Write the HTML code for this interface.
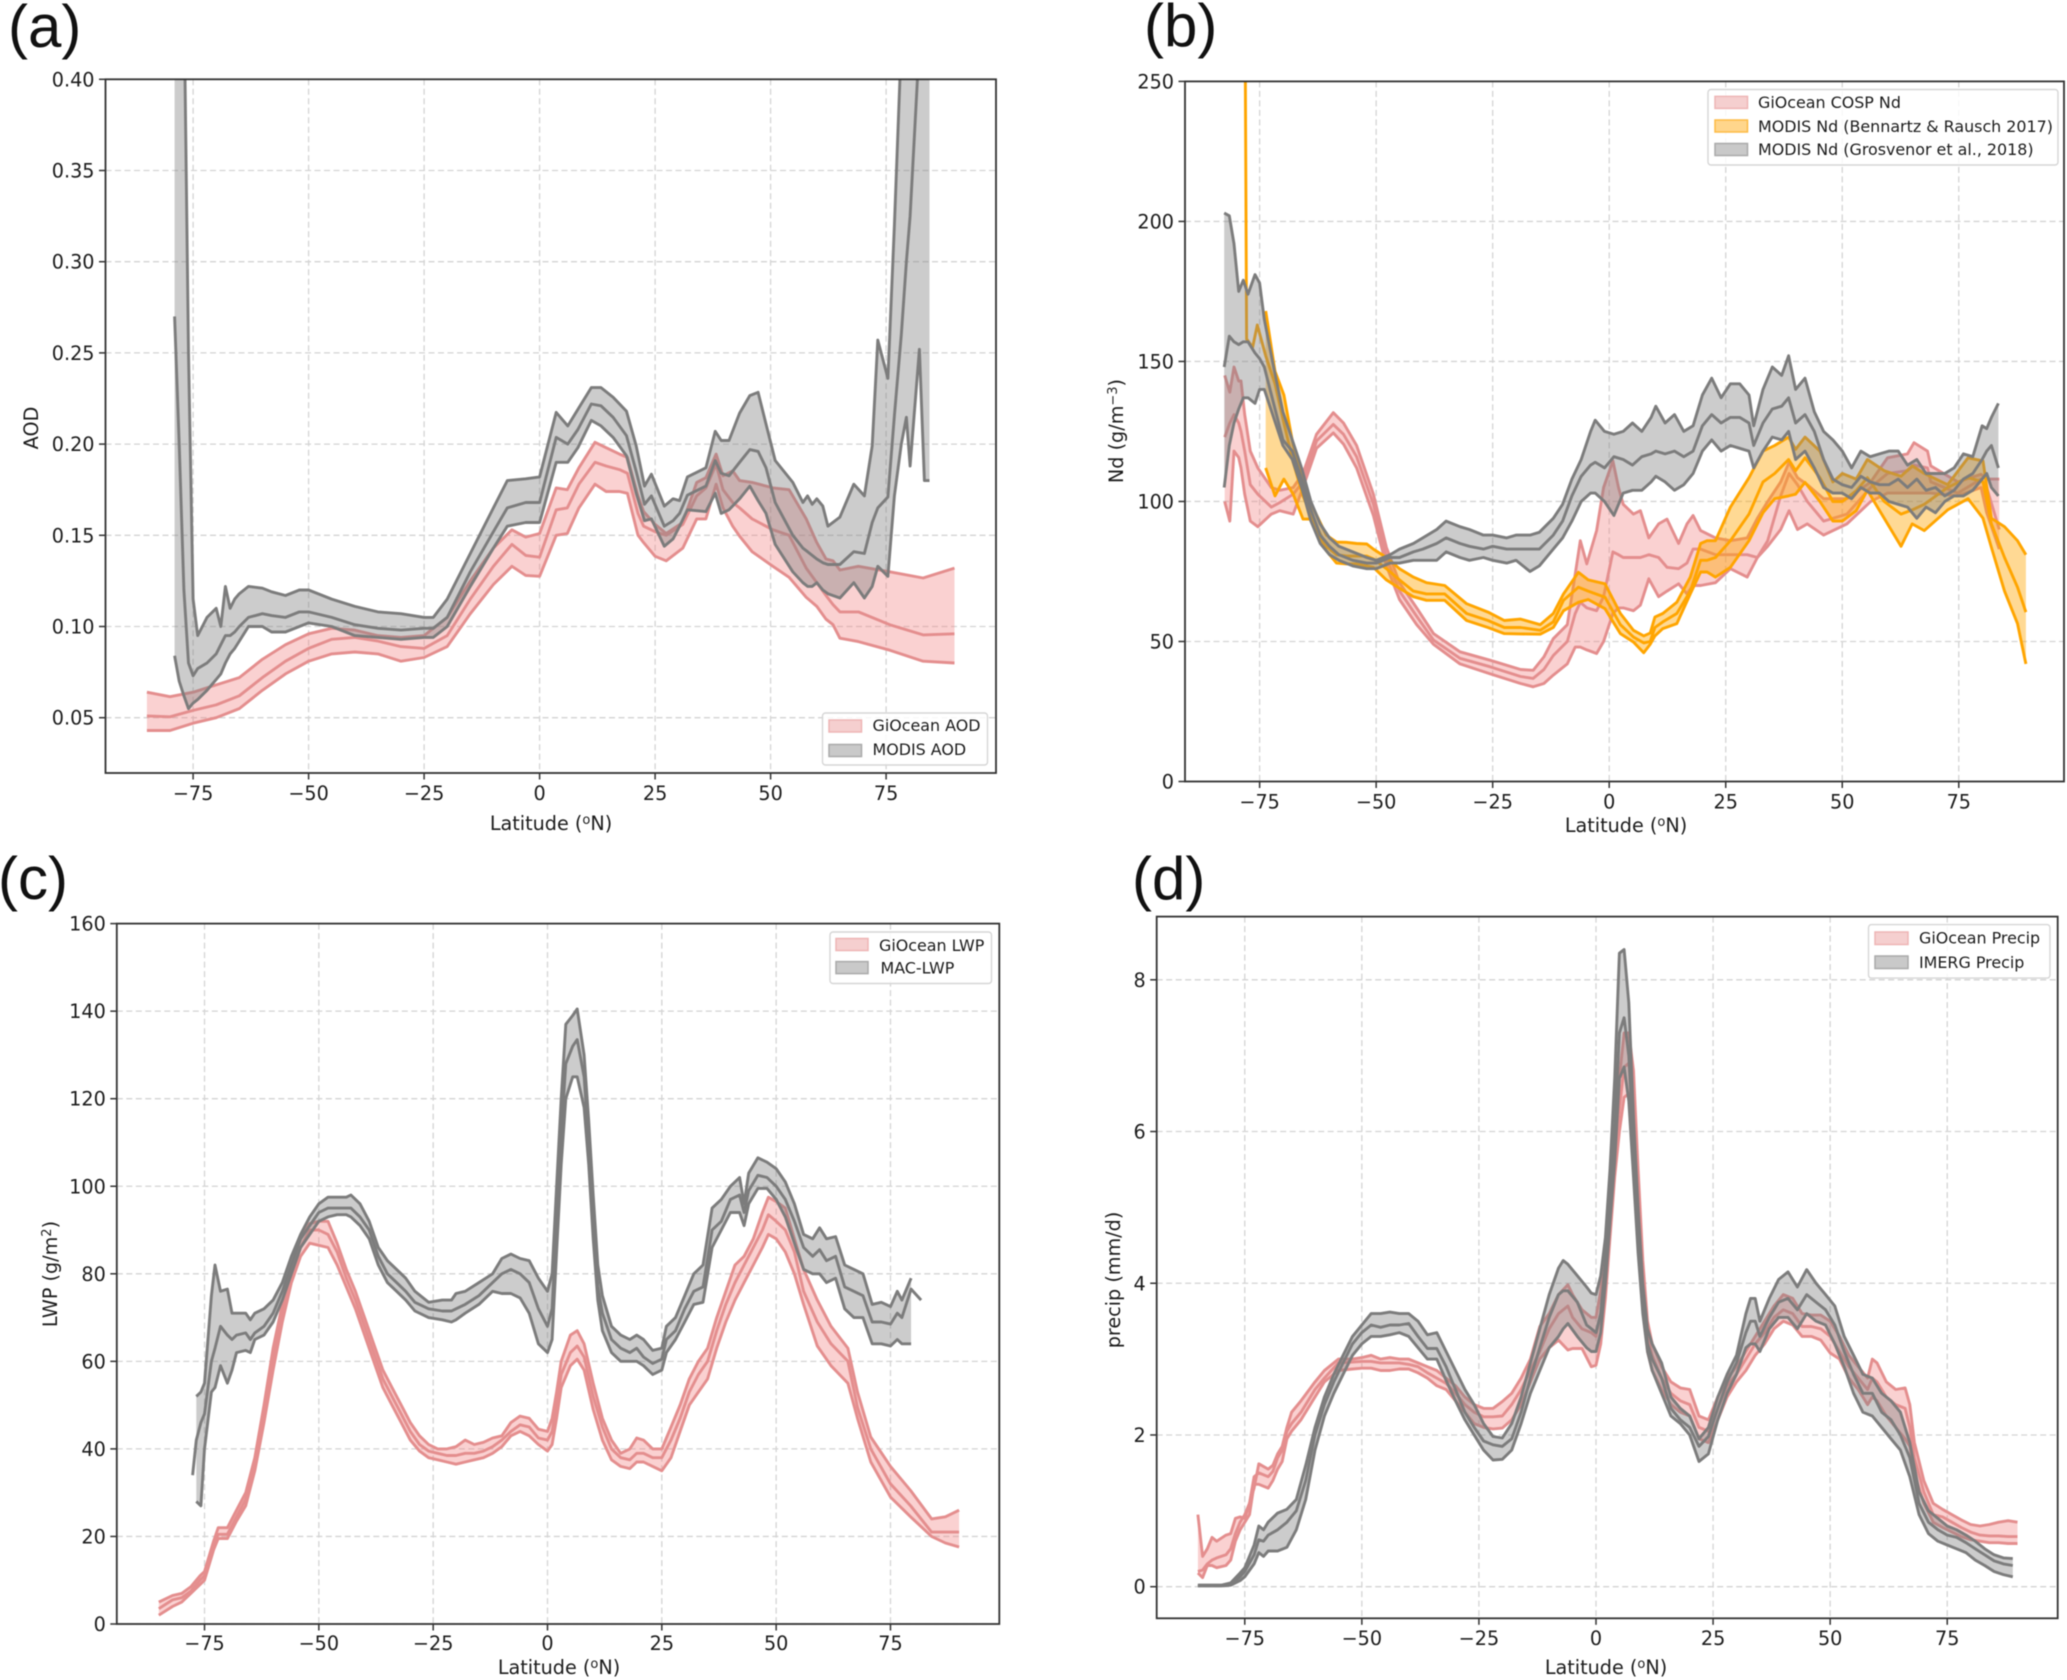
<!DOCTYPE html>
<html>
<head>
<meta charset="utf-8">
<title>Latitudinal profiles of AOD, Nd, LWP and precipitation</title>
<style>
html,body{margin:0;padding:0;background:#fff;width:2067px;height:1680px;overflow:hidden}
svg{display:block;filter:blur(0.5px)}
text{font-family:"DejaVu Sans","Liberation Sans",sans-serif;fill:#1c1c1c}
.tick{font-size:19.2px}
.axl{font-size:19.2px}
.leg{font-size:15.9px}
.pl{font-family:"Liberation Sans",sans-serif;font-size:60px;fill:#111}
.lb{fill:#fff;fill-opacity:.85;stroke:#d6d6d6;stroke-width:1.4}
</style>
</head>
<body>
<svg id="fig" xmlns="http://www.w3.org/2000/svg" width="2067" height="1680" viewBox="0 0 2067 1680">
<rect width="2067" height="1680" fill="#fff"/>
<defs>
<clipPath id="clip-a"><rect x="105.5" y="79.3" width="890.5" height="693.7"/></clipPath>
<clipPath id="clip-b"><rect x="1185" y="81.4" width="879" height="700.1"/></clipPath>
<clipPath id="clip-c"><rect x="116.8" y="923.6" width="882.5" height="700.4"/></clipPath>
<clipPath id="clip-d"><rect x="1156.7" y="916.6" width="901" height="701.7"/></clipPath>
</defs>

<g id="panel-a"></g>
<g id="panel-b"></g>
<g id="panel-c"></g>
<g id="panel-d"></g>

<text class="pl" x="8" y="47">(a)</text>
<text class="pl" x="1144" y="46">(b)</text>
<text class="pl" x="-2" y="899">(c)</text>
<text class="pl" x="1132" y="899">(d)</text>

<text class="axl" transform="translate(38,428) rotate(-90)" text-anchor="middle">AOD</text>
<text class="axl" transform="translate(1123,431) rotate(-90)" text-anchor="middle">Nd (g/m<tspan dy="-6" font-size="13">−3</tspan><tspan dy="6">)</tspan></text>
<text class="axl" transform="translate(57,1274) rotate(-90)" text-anchor="middle">LWP (g/m<tspan dy="-6" font-size="13">2</tspan><tspan dy="6">)</tspan></text>
<text class="axl" transform="translate(1120,1280) rotate(-90)" text-anchor="middle">precip (mm/d)</text>

<text class="axl" x="551" y="830" text-anchor="middle">Latitude (<tspan dy="-6" font-size="13">o</tspan><tspan dy="6">N)</tspan></text>
<text class="axl" x="1626" y="832" text-anchor="middle">Latitude (<tspan dy="-6" font-size="13">o</tspan><tspan dy="6">N)</tspan></text>
<text class="axl" x="559" y="1674" text-anchor="middle">Latitude (<tspan dy="-6" font-size="13">o</tspan><tspan dy="6">N)</tspan></text>
<text class="axl" x="1606" y="1674" text-anchor="middle">Latitude (<tspan dy="-6" font-size="13">o</tspan><tspan dy="6">N)</tspan></text>

<g>
<rect class="lb" x="822.5" y="713" width="165" height="52" rx="3"/>
<rect x="829" y="720" width="32.5" height="12" fill="#f5cfcf" stroke="#eeb5b5" stroke-width="1.5"/>
<rect x="829" y="744.5" width="32.5" height="12" fill="#c9c9c9" stroke="#aaa" stroke-width="1.5"/>
<text class="leg" x="872.5" y="731">GiOcean AOD</text>
<text class="leg" x="872.5" y="755">MODIS AOD</text>
</g>
<g>
<rect class="lb" x="1708" y="89.5" width="350" height="75.5" rx="3"/>
<rect x="1715" y="96.4" width="32.5" height="12" fill="#f5cfcf" stroke="#eeb5b5" stroke-width="1.5"/>
<rect x="1715" y="120" width="32.5" height="12" fill="#ffd68c" stroke="#fdbb45" stroke-width="1.5"/>
<rect x="1715" y="143.5" width="32.5" height="12" fill="#c9c9c9" stroke="#aaa" stroke-width="1.5"/>
<text class="leg" x="1758" y="108">GiOcean COSP Nd</text>
<text class="leg" x="1758" y="132">MODIS Nd (Bennartz &amp; Rausch 2017)</text>
<text class="leg" x="1758" y="155">MODIS Nd (Grosvenor et al., 2018)</text>
</g>
<g>
<rect class="lb" x="830" y="932" width="161.5" height="51.5" rx="3"/>
<rect x="836" y="938.5" width="32" height="12" fill="#f5cfcf" stroke="#eeb5b5" stroke-width="1.5"/>
<rect x="836" y="961.6" width="32" height="12" fill="#c9c9c9" stroke="#aaa" stroke-width="1.5"/>
<text class="leg" x="879" y="951">GiOcean LWP</text>
<text class="leg" x="880.5" y="973.5">MAC-LWP</text>
</g>
<g>
<rect class="lb" x="1868.5" y="924.6" width="181.5" height="53.5" rx="3"/>
<rect x="1875" y="932" width="33" height="12.5" fill="#f5cfcf" stroke="#eeb5b5" stroke-width="1.5"/>
<rect x="1875" y="956" width="33" height="12.5" fill="#c9c9c9" stroke="#aaa" stroke-width="1.5"/>
<text class="leg" x="1919" y="943.5">GiOcean Precip</text>
<text class="leg" x="1919" y="968">IMERG Precip</text>
</g>
</svg>

<script>
// ---------- shared tick labels ----------
const latTickLabels = [-75,-50,-25,0,25,50,75];
const aodTickLabels = ['0.05','0.10','0.15','0.20','0.25','0.30','0.35','0.40'];
const ndTickLabels = ['0','50','100','150','200','250'];
const lwpTickLabels = ['0','20','40','60','80','100','120','140','160'];
const precipTickLabels = ['0','2','4','6','8'];

// ---------- (a) AOD ----------
const aodPinkLat = [-85,-80,-75,-70,-65,-60,-55,-50,-45,-40,-35,-30,-25,-20,-15,-10,-6,-3,
0,3.6,6,8.5,12,14.4,17.3,19,21.3,22.5,25,27.4,31,34,36,38.2,39.7,41.8,43.3,46,50.5,54,57.7,60,62,63.5,65,69,75.8,83,89.8];
const aodPinkHi = [.064,.0615,.064,.068,.072,.082,.090,.096,.099,.098,.095,.094,.095,.105,.125,.143,.153,.149,
.151,.176,.175,.187,.201,.198,.1945,.1927,.1716,.163,.156,.151,.157,.179,.1816,.1945,.1826,.1853,.18,.179,.176,.175,.159,.146,.137,.136,.131,.133,.13,.1266,.132];
const aodPinkMid = [.051,.0505,.054,.057,.062,.072,.081,.088,.093,.094,.092,.089,.088,.095,.115,.133,.145,.139,
.138,.164,.165,.178,.19,.188,.186,.184,.162,.155,.152,.15,.156,.1716,.176,.189,.175,.168,.165,.159,.153,.15,.132,.124,.117,.112,.108,.108,.101,.0954,.096];
const aodPinkLo = [.043,.043,.047,.050,.055,.065,.074,.081,.085,.086,.085,.081,.083,.089,.107,.123,.133,.128,
.1275,.15,.151,.165,.178,.174,.174,.173,.15,.146,.1385,.136,.143,.159,.159,.178,.165,.155,.1495,.141,.133,.127,.116,.111,.104,.101,.0936,.0917,.087,.081,.08];

const aodGrayLat = [-79,-78,-77,-76,-75,-74,-72,-70,-69,-68,
-67,-66,-65,-63,-60,-58,-55,-52,-50,-45,
-40,-35,-30,-25,-23,-20,-15,-10,-7,-3,
0,3.6,6.1,8.3,11.2,13.3,15.9,18.8,20.9,22.7,
24.2,27,28.9,30.3,32,36,38,39.3,41,43.3,
45.5,47.3,49,51,54.8,57,58,59,60,61.3,
62.4,65,68,70.3,72,73.2,75.4,76.8,78.3,79.4,
80.2,82.2,83.3,84.4];
const aodGrayHi = [.6,.6,.45,.25,.115,.095,.105,.110,.100,.122,
.110,.115,.118,.122,.121,.119,.117,.120,.120,.115,
.111,.108,.107,.105,.105,.115,.140,.165,.180,.181,
.182,.2174,.21,.219,.231,.231,.2257,.218,.199,.177,
.1835,.166,.17,.169,.182,.187,.207,.202,.202,.217,
.2266,.2284,.211,.191,.179,.168,.1716,.167,.17,.166,
.155,.16,.178,.1716,.199,.257,.236,.32,.42,.6,
.6,.6,.6,.6];
const aodGrayMid = [.27,.2,.12,.08,.073,.077,.08,.085,.09,.095,
.095,.097,.100,.105,.107,.106,.105,.108,.108,.105,
.101,.099,.098,.099,.099,.105,.130,.152,.165,.168,
.168,.2037,.20,.208,.222,.221,.2147,.2046,.185,.167,
.1716,.155,.158,.162,.172,.177,.191,.184,.1826,.19,
.197,.196,.187,.168,.15,.143,.141,.139,.137,.135,
.134,.134,.141,.14,.157,.165,.171,.2156,.26,.30,
.325,.42,.6,.6];
const aodGrayLo = [.084,.07,.062,.055,.058,.06,.065,.071,.074,.08,
.085,.088,.092,.100,.100,.097,.097,.100,.102,.100,
.095,.094,.093,.094,.094,.100,.122,.143,.155,.157,
.157,.19,.19,.198,.213,.21,.2037,.1936,.173,.158,
.159,.144,.148,.155,.164,.163,.173,.162,.164,.17,
.177,.169,.162,.145,.13,.124,.122,.122,.124,.12,
.118,.1156,.124,.1156,.122,.133,.1275,.1716,.2,.2147,
.188,.252,.18,.18];

// ---------- (b) Nd ----------
const ndPinkLat = [-82.5,-81.4,-80.5,-79.5,-79,-78.2,-77,-75.4,-72.5,-70.7,
-67.8,-65.7,-62.8,-59.2,-57,-54.2,-50.6,-47.8,-45,-41.3,
-37.7,-32,-25.6,-19,-16.3,-14,-12,-9,-7.3,-6.2,
-4.8,-2.7,-1.2,0.8,2,3,5.2,6.7,8.5,10.6,
12.4,14.9,16.7,18,19.6,22.8,26,29.6,31.8,34,
36.8,38.6,40.4,42.5,46,51,56.1,59.7,64,65.4,
68.3,69,74.8,79.8,81,83.7];
const ndPinkHi = [145,139,148,143,143,131,118,112,105,104,
105,110,124,131.7,128,120,102.6,83.6,71,62,
52.8,46.3,43.3,40,39.7,44.5,51,56,74,86,
77.7,89.6,105,114.5,105,99,95.5,96.7,87,92,
93.7,85,92,95,89.6,87,86,87,94,100,
107,114,108.5,106,101,101,107,115.6,117,121,
118,112.7,107,109.7,108,108];
const ndPinkMid = [123,128,131,128,125,118,106,102.6,98,99.6,
102.6,107,121.6,127.5,124,116,99,80,68,59,
50.5,44,41,37.5,36.8,40,45,50,60,64,
62,61,66,82,81,80,80,80,81,80,
76.5,76,78,83,83,81,81,81,80,86,
102,110,106,100,93,95.5,105,110,111,113,
112,107,103,108,105,90];
const ndPinkLo = [100,93,118,115.7,112,102.6,93,91,95.5,96.7,
95.5,105,119,124.5,120.5,112,95,77,65,56,
49,42,38.5,35,33.8,35,38,42,48,48,
47,45.7,50,60,62,62,61,63,72.4,66,
68,70.6,67,70,70,71,76,73,80,84,
90,96.7,90,92,88,92,100,103,103,103,
103,103,102,105,96,83];

const ndOrangeLat = [-78.2,-77.8,-76.5,-75.5,-73.7,-71.7,-69.8,-67.8,-65.7,-64.2,
-60.7,-58.5,-56.4,-54.2,-52,-50.6,-47.8,-45,-42,-39.2,
-35.3,-30.6,-26,-22.5,-19,-14.8,-12,-9.8,-6.6,-4.5,
-0.9,2.4,5.2,7.4,8.8,9.8,11.5,14.5,17.4,19.6,
21,22.8,26,30,33,35.5,38.5,40,42,45.2,
48,50,53,55.4,59,62.6,65,67.6,72.6,77,
80.2,82,84.8,87.6,89.4];
const ndOrangeHi = [null,null,null,null,168,146.5,138,120,108,100,
88,85.5,85.4,85,84.8,83,80,76,73,71,
70,63.5,60.5,57.5,58,56,60,67,74.7,72,
70.6,60,54,52,53,58.7,60,64,73,85,
86,86,98,108.5,118,120,123,118.6,123,118,
107,110,108,115,111,109,112.7,110,106,115.6,
114.5,94,91,86,81];
const ndOrangeMid = [300,158,155,163,152,142,128,114,102,96,
84,81,80.5,80.5,80.5,79.5,76,72,68,67,
67,60,57.5,55,55,54,57,64.7,69.4,68,
65.8,56,51.6,49.5,50,55,57,60,68,79,
79,80,86,95.5,107,110,115,111,115.6,108.5,
100,100,103.8,108.5,100,95.5,97,99,105,108.5,
107,92,80,69.4,60.5];
const ndOrangeLo = [null,null,null,null,112,102,108,102.6,93.7,93.7,
82.4,78,77.7,77.7,77,76.5,72,69,66,64.7,
64.7,57.5,55,52.8,52.7,52.6,55,61,64,65,
61.7,52.8,49.8,46,49,52,54.6,56.4,67,74.8,
74.8,73,76.5,86,96,101,102,102.6,106.8,100,
93,93,96.7,104,94,84,92,89.6,97,101,
94,83.6,68,56.4,42];

const ndGrayLat = [-82.6,-81.5,-80.5,-79.5,-78.5,-77.5,-76,-75,-74,-72,
-70,-68,-66,-64,-62,-60,-58,-55,-52,-50,
-47,-45,-42,-40,-37,-35,-32,-30,-27,-25,
-22,-20,-17,-15,-12,-10,-8,-6,-4,-3,
-1,1,3,5,7,9,10,12,14,16,
18,20,22,24,26,28,30,31,33,35,
37,38.5,40,42,44,46,48,50,52,54,
56,58,60,62,64,66,68,70,72,74,
76,78,80,81,82,83.5];
const ndGrayHi = [203,202,192,175,179,174,181,178,165,148,
132,122,112,100,92,87,84,82,80,79,
81,83,85,87,90,93,91,90,88,88,
87,88,88,89,94,99,108,115,125,129,
125,124,125,128,125,130,134,128,131,125,
127,138,144,137,142,142,138,127,140,148,
145,152,140,144,132,125,122,118,112,118,
116,117,118,118,113,115,110,110,110,112,
117,116,127,126,130,135];
const ndGrayMid = [148,159,157,156,157,157,153,151,148,135,
122,118,108,97,88,84,81,79,78,78,
80,80,82,83,85,87,85,84,83,84,
83,83,83,83,88,93,102,109,113,114,
112,116,115,113,116,117,118,117,118,116,
118,127,131,128,130,130,128,120,128,133,
134,137,128,131,125,115,108,106,105,109,
107,106,106,108,105,108,104,105,102,104,
108,110,115,118,120,112];
const ndGrayLo = [105,120,128,133,137,137,135,140,140,130,
120,115,105,93,85,81,79,77,76,76,
78,78,79,79,79,82,80,79,80,79,
78,79,75,77,83,87,93,100,103,103,
100,95,103,104,104,107,109,107,104,106,
110,118,122,118,120,119,118,112,118,123,
122,125,115,118,112,105,103,103,101,105,
103,103,100,99,98,94,98,96,100,102,
102,104,108,110,105,102];

// ---------- (c) LWP ----------
const lwpPinkLat = [-85,-82,-80,-78,-76,-75,-73,-72,-70,-68,
-66,-64,-62,-60,-58,-56,-54,-52,-50,-48,
-46,-44,-42,-40,-38,-36,-34,-32,-30,-28,
-26,-24,-22,-20,-18,-16,-14,-12,-10,-8,
-6,-4,-2,0,1,2,3,5,6.5,8,
10,12,14,16,18,19.5,21,23,25,27,
29,31,33,35,37,39,41,43,45,47,
48.3,50,52,54,56,59,62,65.7,67.8,70.7,
75,79.4,84,87,90];
const lwpPinkHi = [5,6.5,7,8.5,11,12,19,22,22,26,
30,38,50,63,73,82,88,91.5,92,92,
87,81,76,70,64,58,54,50,46,43,
41,40,40,40.5,42,41,41.5,42.5,43,46,
47.5,47,44.5,44,47,53,60,66,67,64,
55,47,42,39,40,42.5,42,40,40,45,
50,56,60,63,70,76,82,84,88,94,
97.5,96.5,95,88,81,74,68,63,53,42.7,
36,30.5,24,24.5,26];
const lwpPinkMid = [3.5,5.5,6,7.5,10,11,18,20.5,20.5,24.5,
28.5,36,48,60,71,80,86,90,90,89,
85,79,74,68,62,56,52,48,44,41,
39.5,39,38.5,38.5,39,39,39.5,40.5,42,44,
45.5,45,42.5,42,44,50,57,62,63.5,61,
52,45,40,38,37.5,39,39,38,38,42,
47,53,57,60,67,73,78,82,86,90,
93.5,92,90,85,76,69,64,60,49.5,40,
32,27,21,21,21];
const lwpPinkLo = [2,4,5,7,9,10,17,19.5,19.5,23.5,
27,35,46,58,69,78,84,87,86.5,86,
82,77,72,66,60,54,50,46,42,39.5,
38,37.5,37,36.5,37,37.5,38,39,40.5,43,
44,43,41,39.5,41,47,54,59,60.5,58,
49,42,37.5,36,35.5,37,37,36,35,38,
44,50,53,56,63,69,74,78,82,86,
89,88,85,80,73,63.5,59,55,47,37,
29,24.5,20,18.5,17.6];

const lwpGrayLat = [-77.6,-76.8,-75.8,-75,-73.5,-72.7,-71.5,-70,-69,-68,
-66,-65,-64,-62,-60,-58,-56,-54,-52,-50,
-48,-46,-44,-43,-41,-39,-37,-35,-33,-31,
-29,-26,-23,-21,-20,-18,-15,-12,-10,-8,
-6,-4,-2,0,1,2,3,4,5.5,6.5,
8,9,10,11,12,14,16,18,19.5,21,
23,25,26,28,30,32,34,36,38,40,
42,43,44,46,48,50,52,54,56,58,
59.5,61,63,65,67,69,71,73,75,76.5,
77.5,79.5,81.7];
const lwpGrayHi = [null,52,53,55,75,82,76,76.5,71,71,
71,69.5,71,72,74,78,84,89,93,96,
97.5,97.5,97.5,98,96,92,86,83,81,79,
76,73.5,74,74,75.5,76,78,80,83.5,84.5,
83.5,83,79,76,80,100,120,137,139,140.5,
130,115,98,82,75,68,66,65,66,65,
62.5,63,68,70,75,80,82,95,97,100,
102,96,103,106.5,105.5,104,101,96,89,88,
90.5,88,88.5,82,81,80,73,73.5,72.5,76,
74,79,null];
const lwpGrayMid = [34,42,46,48,60,63,68,66,65,66,
66.5,65,66.5,68,71,76,82,88,91,94,
95,95,95,95,93,90,84,80,78,76,
73.5,72,71.5,71.5,72,73,75,78,80,81,
80,78,72,68,72,92,112,128,132,133.5,
125,110,92,77,71,65,63,62,63,61,
59.5,60.5,65,67,72,76,77,90,92,97,
98,94,99,102.5,102,100,97,92,86,84,
85.5,83,84,77,76,75,69,69,68.5,71,
70,76.5,74];
const lwpGrayLo = [null,28,27,40,53,54,59,55,58,62,
62.5,62,65,66,69,74,80,86,89,92,
93,93.5,93.5,93,91,88,82,78,76,74,
71.5,70,69.5,69,69.5,71,73,76,75.5,75.5,
74.5,71,64,62,65,85,105,120,125,125,
118,105,88,74,67,62,60,60,60,59,
57,58,62,65,69,73,73.5,86,90,94,
94,91,96,99.5,99.5,97,93,87,81,80,
80,78,79,72,70,70,64,64,63.5,65,
64,64,null];

// ---------- (d) Precip ----------
const prPinkLat = [-85,-84,-83,-82,-81,-79,-78,-77,-76,-75,
-74,-73,-72,-70,-69,-68,-67,-66,-65,-63,
-60,-58,-55,-52,-50,-48,-46,-44,-42,-40,
-38,-36,-34,-32,-30,-28,-26,-24,-22,-20,
-18,-16,-14,-12,-10,-8,-6,-5,-3,-1,
0,1,2,3,4,5,6,7,8,9,
10,11,12,14,16,18,20,22,24,26,
28,30,32,34,36,38,40,42,44,46,
48,50,52,54,56,58,59,60,62,64,
66,67,68,70,72,74,76,78,80,82,
84,86,88,90];
const prPinkHi = [.95,.4,.5,.65,.6,.68,.7,.9,.92,.9,
1.1,1.3,1.62,1.55,1.6,1.75,1.85,2.1,2.3,2.45,
2.7,2.85,3.0,3.0,3.02,3.05,3.0,3.02,3.0,3.0,
2.95,2.9,2.85,2.75,2.65,2.5,2.4,2.35,2.35,2.44,
2.55,2.75,3.0,3.43,3.6,3.85,3.98,3.85,3.65,3.55,
3.55,3.9,4.5,5.3,6,6.7,7.3,7.3,6.8,5.5,
4.3,3.5,3.2,2.9,2.7,2.62,2.6,2.25,2.2,2.5,
2.75,2.9,3.1,3.3,3.5,3.7,3.85,3.8,3.6,3.58,
3.58,3.5,3.3,3.05,2.9,2.75,3.0,2.95,2.7,2.6,
2.62,2.4,1.9,1.4,1.1,1.02,.95,.88,.82,.8,
.82,.85,.87,.85];
const prPinkMid = [.2,.22,.3,.35,.38,.42,.5,.7,.85,.95,
1.1,1.45,1.5,1.45,1.52,1.7,1.8,2.05,2.15,2.3,
2.6,2.75,2.95,2.96,2.97,2.97,2.95,2.95,2.95,2.93,
2.9,2.82,2.75,2.68,2.55,2.4,2.3,2.24,2.24,2.25,
2.4,2.6,2.85,3.1,3.4,3.6,3.7,3.55,3.4,3.35,
3.3,3.6,4.2,5,5.7,6.3,6.85,6.9,6.4,5.2,
4.1,3.3,3.05,2.75,2.55,2.45,2.4,2.1,2.05,2.35,
2.65,2.8,3.0,3.2,3.35,3.55,3.65,3.6,3.43,3.43,
3.4,3.3,3.1,2.9,2.75,2.6,2.75,2.7,2.5,2.4,
2.35,2.1,1.7,1.25,.95,.92,.85,.78,.72,.68,
.67,.67,.66,.66];
const prPinkLo = [.18,.12,.28,.28,.25,.28,.35,.6,.75,.85,
.95,1.35,1.35,1.3,1.4,1.55,1.65,1.95,2.05,2.2,
2.5,2.7,2.85,2.87,2.88,2.88,2.85,2.85,2.87,2.87,
2.82,2.75,2.65,2.6,2.45,2.3,2.15,2.1,2.08,2.09,
2.2,2.4,2.7,3.0,3.15,3.25,3.12,3.14,3.14,2.9,
2.92,3.2,3.8,4.6,5.4,6,6.45,6.5,6,4.9,
3.9,3.1,2.85,2.6,2.4,2.3,2.25,1.95,1.9,2.2,
2.5,2.7,2.85,3.05,3.2,3.4,3.5,3.45,3.3,3.3,
3.25,3.08,3,2.75,2.6,2.4,2.5,2.45,2.25,2.1,
1.95,1.85,1.5,1.1,.85,.78,.72,.66,.62,.6,
.58,.58,.57,.57];

const prGrayLat = [-85,-80,-78,-76,-75,-73,-72,-71,-70,-68,
-66,-64,-62,-60,-58,-56,-54,-52,-50,-48,
-46,-44,-42,-40,-38,-36,-34,-32,-30,-28,
-26,-24,-22,-20,-18,-16,-14,-12,-10,-8,
-7,-6,-4,-2,-1,0,1,2,3,4,
5,6,7,8,9,10,11,12,14,16,
18,20,22,24,26,28,30,32,33,34,
35,37,39,41,43,45,47,49,51,53,
55,57,59,61,63,65,67,69,71,73,
75,77,79,81,83,85,87,89];
const prGrayHi = [.02,.02,.05,.18,.25,.55,.8,.75,.85,.97,
1.02,1.15,1.6,2.1,2.5,2.8,3.05,3.3,3.45,3.6,
3.6,3.62,3.6,3.6,3.5,3.32,3.35,3.1,2.85,2.6,
2.4,2.15,1.98,1.96,2.15,2.5,2.95,3.4,3.85,4.2,
4.3,4.25,4.1,3.95,3.87,3.85,4.1,4.6,5.5,6.7,
8.35,8.4,7.7,6.2,5.0,4.0,3.4,3.2,2.95,2.5,
2.35,2.25,1.95,2.1,2.5,2.8,3.05,3.6,3.8,3.8,
3.5,3.8,4.05,4.15,3.95,4.18,4.0,3.85,3.7,3.3,
3.05,2.8,2.75,2.55,2.45,2.3,1.9,1.25,1.0,.9,
.8,.75,.68,.6,.5,.42,.38,.37];
const prGrayMid = [.02,.02,.04,.13,.2,.42,.62,.6,.68,.75,
.85,1.0,1.4,2.0,2.4,2.7,2.95,3.2,3.35,3.45,
3.42,3.45,3.45,3.47,3.3,3.14,3.14,2.9,2.6,2.3,
2.1,1.92,1.87,1.85,1.95,2.3,2.75,3.15,3.55,3.85,
3.9,3.9,3.75,3.45,3.4,3.35,3.6,4.3,5.1,6,
7.3,7.5,7.0,5.8,4.7,3.8,3.2,3,2.75,2.35,
2.2,2.1,1.85,1.98,2.35,2.7,2.95,3.35,3.5,3.5,
3.3,3.55,3.75,3.8,3.65,3.85,3.75,3.65,3.45,3.1,
2.8,2.55,2.55,2.3,2.2,2.0,1.7,1.1,.85,.75,
.68,.65,.58,.5,.42,.34,.3,.28];
const prGrayLo = [.01,.01,.02,.08,.13,.3,.45,.4,.47,.47,
.52,.75,1.15,1.8,2.25,2.55,2.8,3.05,3.2,3.3,
3.3,3.32,3.35,3.3,3.15,3.0,3.0,2.72,2.45,2.2,
2.0,1.8,1.67,1.68,1.8,2.15,2.55,2.85,3.15,3.3,
3.4,3.47,3.3,3.15,3.1,3.1,3.35,4,4.8,5.6,
6.7,6.85,6.4,5.4,4.4,3.6,3.1,2.85,2.55,2.25,
2.15,2.0,1.65,1.75,2.2,2.55,2.8,3.15,3.2,3.2,
3.1,3.4,3.55,3.55,3.4,3.6,3.5,3.45,3.2,2.9,
2.55,2.3,2.25,2.1,1.95,1.8,1.45,.95,.7,.6,
.55,.5,.45,.35,.28,.2,.16,.13];

// ---------- drawing ----------
const NS = 'http://www.w3.org/2000/svg';
const PINK = {line:'#e48e8e', fill:'rgba(240,128,128,0.36)'};
const GRAY = {line:'#7c7c7c', fill:'rgba(128,128,128,0.40)'};
const ORANGE = {line:'#ffa500', fill:'rgba(255,165,0,0.42)'};

function make(tag, parent, attrs, text){
  const e = document.createElementNS(NS, tag);
  for(const k in attrs){ e.setAttribute(k, attrs[k]); }
  if(text !== undefined){ e.textContent = text; }
  parent.appendChild(e);
  return e;
}
function tag(e, name){
  
  
  return e;
}
function linePath(pts){
  return pts.map(function(p,i){ return (i?'L':'M')+p[0].toFixed(1)+' '+p[1].toFixed(1); }).join('');
}

function drawPanel(p){
  const root = document.getElementById('panel-'+p.id);
  const xAt = function(lat){ return p.x0 + p.xk*lat; };
  const yAt = function(v){ return p.ya[1] + (v-p.ya[0])*(p.yb[1]-p.ya[1])/(p.yb[0]-p.ya[0]); };

  // gridlines
  latTickLabels.forEach(function(t){
    const g = make('line', root, {x1:xAt(t),x2:xAt(t),y1:p.top,y2:p.bottom,stroke:'#d4d4d4','stroke-width':1.3,'stroke-dasharray':'6 3.5'});
    tag(g, 'x-gridline');
  });
  p.yTicks.forEach(function(s){
    const v = parseFloat(s);
    const g = make('line', root, {x1:p.left,x2:p.right,y1:yAt(v),y2:yAt(v),stroke:'#d4d4d4','stroke-width':1.3,'stroke-dasharray':'6 3.5'});
    tag(g, 'y-gridline');
  });

  // series
  const plot = make('g', root, {'clip-path':'url(#clip-'+p.id+')'});
  tag(plot, 'plot-area');
  p.series.forEach(function(s){
    const top = [], bot = [], mid = [];
    s.lat.forEach(function(la,i){
      if(s.hi[i] !== null && s.lo[i] !== null){
        top.push([xAt(la), yAt(s.hi[i])]);
        bot.push([xAt(la), yAt(s.lo[i])]);
      }
      if(s.mid[i] !== null){ mid.push([xAt(la), yAt(s.mid[i])]); }
    });
    const band = make('path', plot, {d:linePath(top.concat(bot.slice().reverse()))+'Z', fill:s.style.fill, stroke:'none'});
    tag(band, s.name+'-band');
    [[top,'upper'],[mid,'mean'],[bot,'lower']].forEach(function(item){
      const ln = make('path', plot, {d:linePath(item[0]), fill:'none', stroke:s.style.line, 'stroke-width':2.9, 'stroke-linejoin':'round'});
      tag(ln, s.name+'-'+item[1]+'-line');
    });
  });

  // frame and ticks
  const frame = make('rect', root, {x:p.left,y:p.top,width:p.right-p.left,height:p.bottom-p.top,fill:'none',stroke:'#333','stroke-width':1.8});
  tag(frame, 'axes-frame');
  latTickLabels.forEach(function(t){
    const tk = make('line', root, {x1:xAt(t),x2:xAt(t),y1:p.bottom,y2:p.bottom+6.5,stroke:'#333','stroke-width':1.5});
    tag(tk, 'x-tick');
    const lb = make('text', root, {class:'tick',x:xAt(t),y:p.bottom+p.xTickOffset,'text-anchor':'middle'}, String(t).replace('-','\u2212'));
    tag(lb, 'x-tick-label');
  });
  p.yTicks.forEach(function(s){
    const v = parseFloat(s);
    const tk = make('line', root, {x1:p.left-6.5,x2:p.left,y1:yAt(v),y2:yAt(v),stroke:'#333','stroke-width':1.5});
    tag(tk, 'y-tick');
    const lb = make('text', root, {class:'tick',x:p.left-11,y:yAt(v)+7,'text-anchor':'end'}, s);
    tag(lb, 'y-tick-label');
  });
}

drawPanel({id:'a',left:105.5,right:996,top:79.3,bottom:773,x0:539.6,xk:4.62,ya:[0.05,717.7],yb:[0.40,79.3],xTickOffset:27,yTicks:aodTickLabels,
  series:[
    {name:'giocean-aod',lat:aodPinkLat,hi:aodPinkHi,mid:aodPinkMid,lo:aodPinkLo,style:PINK},
    {name:'modis-aod',lat:aodGrayLat,hi:aodGrayHi,mid:aodGrayMid,lo:aodGrayLo,style:GRAY}
  ]});
drawPanel({id:'b',left:1185,right:2064,top:81.4,bottom:781.5,x0:1609.2,xk:4.661,ya:[0,781.5],yb:[250,81.4],xTickOffset:27,yTicks:ndTickLabels,
  series:[
    {name:'giocean-nd',lat:ndPinkLat,hi:ndPinkHi,mid:ndPinkMid,lo:ndPinkLo,style:PINK},
    {name:'bennartz-nd',lat:ndOrangeLat,hi:ndOrangeHi,mid:ndOrangeMid,lo:ndOrangeLo,style:ORANGE},
    {name:'grosvenor-nd',lat:ndGrayLat,hi:ndGrayHi,mid:ndGrayMid,lo:ndGrayLo,style:GRAY}
  ]});
drawPanel({id:'c',left:116.8,right:999.3,top:923.6,bottom:1624,x0:547.5,xk:4.573,ya:[0,1624],yb:[160,923.6],xTickOffset:26,yTicks:lwpTickLabels,
  series:[
    {name:'giocean-lwp',lat:lwpPinkLat,hi:lwpPinkHi,mid:lwpPinkMid,lo:lwpPinkLo,style:PINK},
    {name:'mac-lwp',lat:lwpGrayLat,hi:lwpGrayHi,mid:lwpGrayMid,lo:lwpGrayLo,style:GRAY}
  ]});
drawPanel({id:'d',left:1156.7,right:2057.7,top:916.6,bottom:1618.3,x0:1596,xk:4.683,ya:[0,1586.7],yb:[8,979.8],xTickOffset:26.5,yTicks:precipTickLabels,
  series:[
    {name:'giocean-precip',lat:prPinkLat,hi:prPinkHi,mid:prPinkMid,lo:prPinkLo,style:PINK},
    {name:'imerg-precip',lat:prGrayLat,hi:prGrayHi,mid:prGrayMid,lo:prGrayLo,style:GRAY}
  ]});
</script>
</body>
</html>
